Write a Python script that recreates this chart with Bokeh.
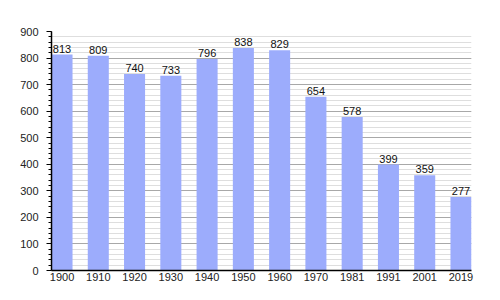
from bokeh.plotting import figure
from bokeh.models import Range1d, FixedTicker, SingleIntervalTicker, ColumnDataSource
from bokeh.core.properties import value
from bokeh.embed import file_html
from bokeh.resources import INLINE

years = ["1900", "1910", "1920", "1930", "1940", "1950", "1960", "1970", "1981", "1991", "2001", "2019"]
population = [813, 809, 740, 733, 796, 838, 829, 654, 578, 399, 359, 277]

idx = list(range(len(years)))
src = ColumnDataSource(dict(x=idx, top=population, label=[str(v) for v in population]))

p = figure(width=500, height=300, output_backend="svg", toolbar_location=None,
           x_range=Range1d(-0.29, 11.29), y_range=Range1d(0, 900),
           min_border_left=51, min_border_right=29, min_border_top=31, min_border_bottom=30)
p.outline_line_color = None
p.background_fill_color = "white"
p.border_fill_color = "white"

p.vbar(x="x", top="top", width=0.58, source=src, fill_color="#9cacfc", line_color=None)
p.text(x="x", y="top", text="label", source=src, text_align="center", text_baseline="bottom",
       y_offset=-2, text_font_size="11px", text_color="#111111", text_font=value("Liberation Sans"))

p.xaxis.ticker = FixedTicker(ticks=idx)
p.xaxis.major_label_overrides = {i: y for i, y in zip(idx, years)}
p.xaxis.major_tick_line_color = None
p.xaxis.major_tick_in = 0
p.xaxis.major_tick_out = 0
p.xaxis.minor_tick_line_color = None
p.xaxis.axis_line_color = "black"
p.xaxis.axis_line_width = 1.5
p.xaxis.major_label_standoff = 2
p.xaxis.major_label_text_font = "Liberation Sans"
p.xaxis.major_label_text_font_size = "11px"
p.xaxis.major_label_text_color = "#222222"

p.yaxis.ticker = SingleIntervalTicker(interval=100, num_minor_ticks=5)
p.yaxis.axis_line_color = "black"
p.yaxis.axis_line_width = 1.5
p.yaxis.major_tick_in = 0
p.yaxis.major_tick_out = 5
p.yaxis.minor_tick_in = 0
p.yaxis.minor_tick_out = 3
p.yaxis.major_label_standoff = 8
p.yaxis.major_label_text_font = "Liberation Sans"
p.yaxis.major_label_text_font_size = "11px"
p.yaxis.major_label_text_color = "#222222"

p.xgrid.grid_line_color = None
p.ygrid.grid_line_color = "#a8a8a8"
p.ygrid.minor_grid_line_color = "#dedede"
p.ygrid.level = "underlay"

open("out.html", "w").write(file_html(p, INLINE))
